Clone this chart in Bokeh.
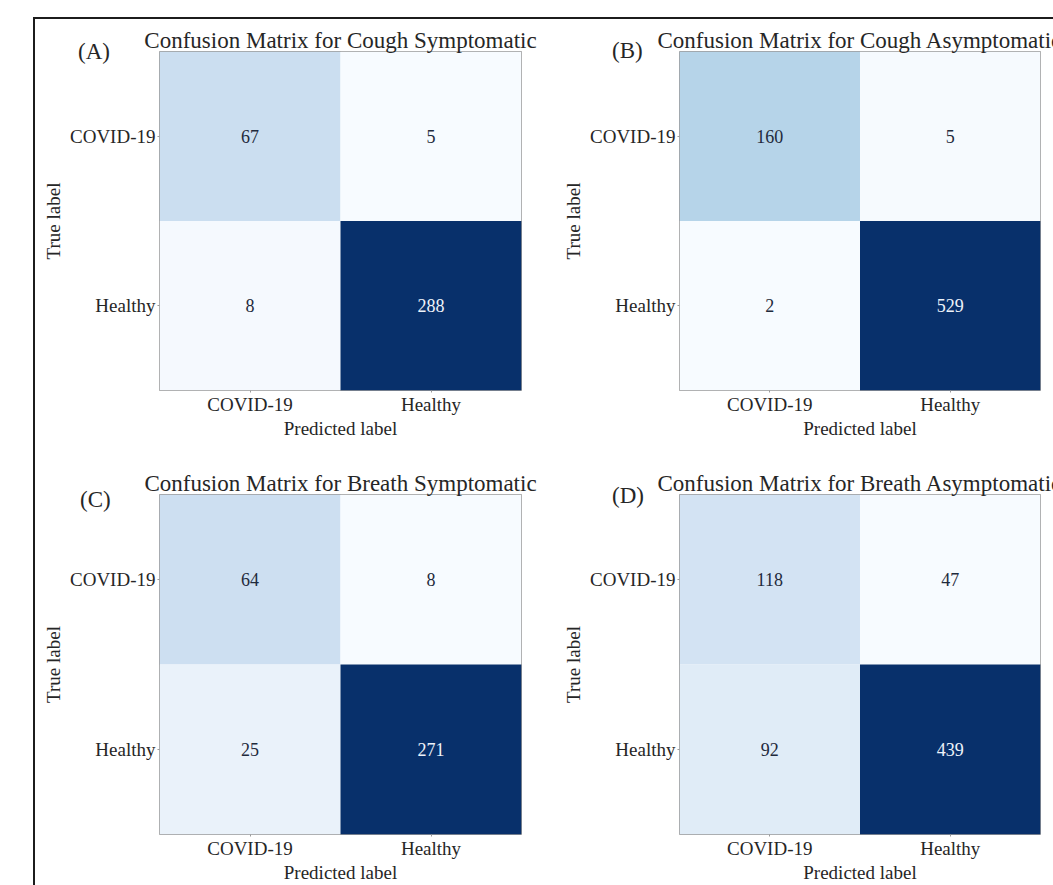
from bokeh.plotting import figure
from bokeh.models import ColumnDataSource, FactorRange, LinearColorMapper, Div
from bokeh.layouts import column, row
from bokeh.palettes import Blues9, interp_palette
from bokeh.embed import file_html
from bokeh.resources import INLINE
from bokeh.core.properties import value

# class names (rows = true label, columns = predicted label)
CLASSES = ["COVID-19", "Healthy"]

# confusion matrices, rows: true COVID-19 / Healthy, cols: predicted COVID-19 / Healthy
cough_symptomatic = [[67, 5], [8, 288]]
cough_asymptomatic = [[160, 5], [2, 529]]
breath_symptomatic = [[64, 8], [25, 271]]
breath_asymptomatic = [[118, 47], [92, 439]]

TITLES = [
    "Confusion Matrix for Cough Symptomatic",
    "Confusion Matrix for Cough Asymptomatic",
    "Confusion Matrix for Breath Symptomatic",
    "Confusion Matrix for Breath Asymptomatic",
]
LETTERS = ["(A)", "(B)", "(C)", "(D)"]

SERIF = "Liberation Serif"
INK = "#262626"
BLUES = interp_palette(tuple(reversed(Blues9)), 256)


def confusion_panel(matrix, title, width, height, borders):
    top, right, bottom, left = borders
    lo = min(min(r) for r in matrix)
    hi = max(max(r) for r in matrix)
    mid = (lo + hi) / 2.0

    true_lbl, pred_lbl, counts, text, tcolor = [], [], [], [], []
    for i, t in enumerate(CLASSES):
        for j, pr in enumerate(CLASSES):
            v = matrix[i][j]
            true_lbl.append(t)
            pred_lbl.append(pr)
            counts.append(v)
            text.append(str(v))
            tcolor.append("#eef3fa" if v > mid else "#1f2a3c")
    src = ColumnDataSource(dict(true=true_lbl, pred=pred_lbl, count=counts,
                                label=text, tcolor=tcolor))

    p = figure(width=width, height=height,
               x_range=FactorRange(factors=CLASSES),
               y_range=FactorRange(factors=list(reversed(CLASSES))),
               output_backend="svg", toolbar_location=None,
               min_border_top=top, min_border_right=right,
               min_border_bottom=bottom, min_border_left=left)

    mapper = LinearColorMapper(palette=BLUES, low=lo, high=hi)
    p.rect(x="pred", y="true", width=1, height=1, source=src,
           fill_color={"field": "count", "transform": mapper}, line_color=None)
    p.text(x="pred", y="true", text="label", source=src, text_color="tcolor",
           text_align="center", text_baseline="middle",
           text_font=value(SERIF), text_font_size="18px")

    p.title.text = title
    p.title.align = "center"
    p.title.text_font = SERIF
    p.title.text_font_size = "23px"
    p.title.text_font_style = "normal"
    p.title.text_color = INK
    p.title.standoff = -2

    p.xaxis.axis_label = "Predicted label"
    p.yaxis.axis_label = "True label"
    for ax in (p.xaxis, p.yaxis):
        ax.axis_label_text_font = SERIF
        ax.axis_label_text_font_style = "normal"
        ax.axis_label_text_font_size = "19px"
        ax.axis_label_text_color = INK
        ax.axis_label_standoff = 0
        ax.major_label_text_font = SERIF
        ax.major_label_text_font_size = "19px"
        ax.major_label_text_color = INK
        ax.major_label_standoff = 1
        ax.axis_line_color = None
        ax.major_tick_in = 0
        ax.major_tick_out = 2
        ax.major_tick_line_color = "#9a9a9a"
    p.yaxis.axis_label_standoff = 3
    p.yaxis.major_label_standoff = 2

    p.xgrid.visible = False
    p.ygrid.visible = False
    p.outline_line_color = "#9a9a9a"
    p.outline_line_width = 1
    p.background_fill_color = "white"
    p.border_fill_color = "white"
    return p


def panel_letter(text, left, top):
    # subplot tag, positioned over the top-left corner of its panel
    return Div(text=text, styles={
        "position": "absolute", "left": f"{left}px", "top": f"{top}px",
        "font-family": SERIF, "font-size": "23px", "line-height": "26px",
        "color": INK, "z-index": "5"})


pa = confusion_panel(cough_symptomatic, TITLES[0], 520, 445, (30, 34, 73, 124))
pb = confusion_panel(cough_asymptomatic, TITLES[1], 498, 445, (32, 13, 74, 124))
pc = confusion_panel(breath_symptomatic, TITLES[2], 520, 421, (30, 34, 44, 124))
pd_ = confusion_panel(breath_asymptomatic, TITLES[3], 498, 421, (30, 13, 44, 124))

letters = [panel_letter(LETTERS[0], 38, 15), panel_letter(LETTERS[1], 572, 14),
           panel_letter(LETTERS[2], 40, 463), panel_letter(LETTERS[3], 572, 459)]

layout = column(row(pa, pb), row(pc, pd_), *letters,
                styles={"margin-left": "33px", "margin-top": "17px",
                        "position": "relative",
                        "border-left": "2px solid #1c1c1c",
                        "border-top": "2px solid #1c1c1c"})

open("out.html", "w").write(file_html(layout, INLINE))
